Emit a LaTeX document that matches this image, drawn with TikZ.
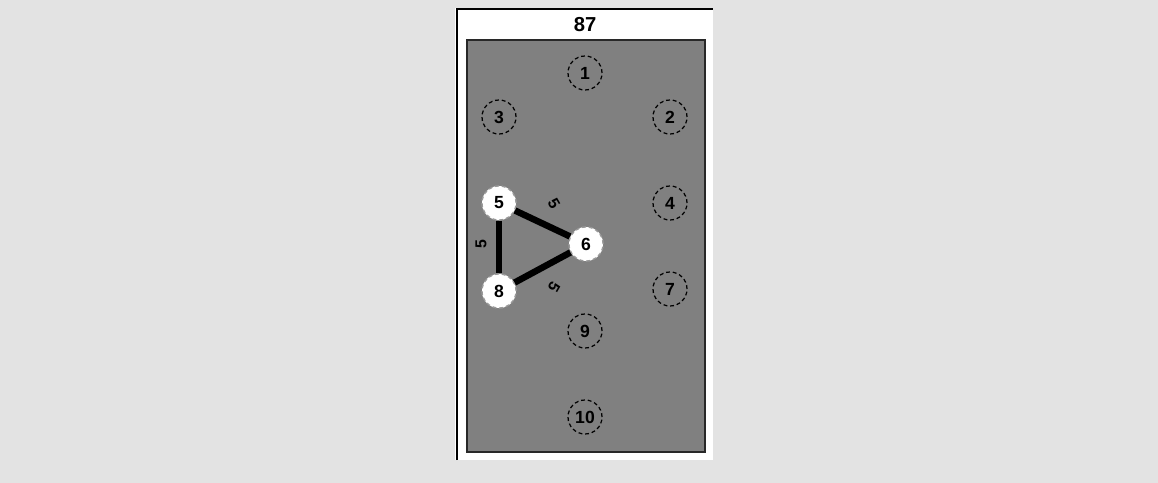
\documentclass[tikz,border=0pt]{standalone}
\usepackage{fontspec}
\setmainfont{Liberation Sans}
\usetikzlibrary{positioning,calc}
\definecolor{canvas}{RGB}{227,227,227}
\definecolor{board}{RGB}{128,128,128}
\definecolor{rim}{RGB}{40,40,40}
\tikzset{
  spot/.style={circle,draw=black,line width=0.7pt,dash pattern=on 2.2pt off 1.6pt,
    minimum size=6.8mm,inner sep=0pt,font=\bfseries\fontsize{10}{11}\selectfont},
  taken/.style={spot,fill=white,draw=white!60!black},
  link/.style={line width=1.3mm,draw=black},
  weight/.style={font=\bfseries\fontsize{9}{10}\selectfont},
}
\begin{document}
\begin{tikzpicture}[x=0.2mm,y=-0.2mm]
  \fill[canvas] (0,0) rectangle (1158,483);
  \fill[white] (455,8) rectangle (713,460);
  \draw[black,line width=0.5mm] (457,460) -- (457,9) -- (713,9);
  \node[font=\bfseries\fontsize{11.5}{12}\selectfont] (title) at (585,25) {87};
  \draw[rim,fill=board,line width=0.35mm] (467,40) rectangle (705,452);
  % free places
  \foreach \n/\x/\y in {1/585/73,3/499/117,2/670/117,4/670/203,7/670/289,9/585/331,10/585/417}
    \node[spot] (p\n) at (\x,\y) {\n};
  % occupied places
  \foreach \n/\x/\y in {5/499/203,6/586/244,8/499/291}
    \node[taken] (p\n) at (\x,\y) {\n};
  \draw[link] (p5) -- (p6);
  \draw[link] (p6) -- (p8);
  \draw[link] (p5) -- (p8);
  % occupied places again, over the links
  \foreach \n/\x/\y in {5/499/203,6/586/244,8/499/291}
    \node[taken] at (\x,\y) {\n};
  \node[weight,rotate=90] (w58) at (481,244) {5};
  \node[weight,rotate=-60] (w56) at (554,204) {5};
  \node[weight,rotate=-120] (w68) at (554,287) {5};
\end{tikzpicture}
\end{document}
